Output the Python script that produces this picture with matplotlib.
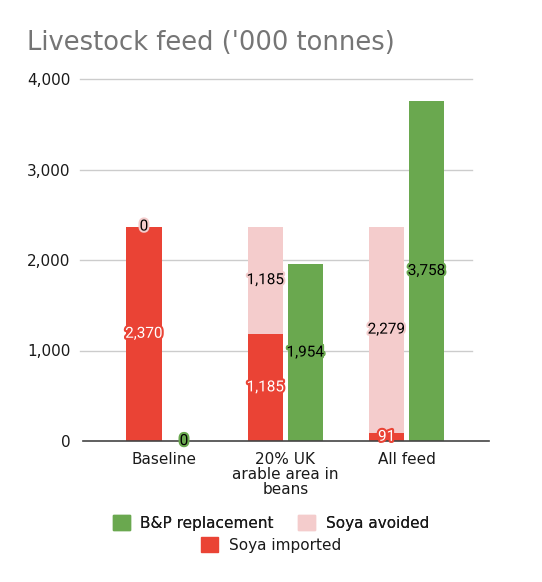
import matplotlib
matplotlib.use("Agg")
import matplotlib.pyplot as plt
import matplotlib.patheffects as pe
from matplotlib.patches import Patch
import numpy as np

categories = ["Baseline", "20% UK\narable area in\nbeans", "All feed"]
soya_imported = [2370, 1185, 91]
soya_avoided = [0, 1185, 2279]
bp_replacement = [0, 1954, 3758]
yticks = [0, 1000, 2000, 3000, 4000]

RED = "#ea4335"
PINK = "#f4cccc"
GREEN = "#6aa84f"
TXT = "#1a1a1a"

fig = plt.figure(figsize=(5.42, 5.82), dpi=100)
ax = fig.add_axes([83/542, (582-441)/582, 406/542, (441-79)/582])

x = np.arange(len(categories))
w = 0.29
off = 0.165

b_imp = ax.bar(x - off, soya_imported, w, color=RED, zorder=3)
b_av = ax.bar(x - off, soya_avoided, w, bottom=soya_imported, color=PINK, zorder=3)
b_bp = ax.bar(x + off, bp_replacement, w, color=GREEN, zorder=3)

lab_font = dict(fontsize=11, family=["Roboto", "DejaVu Sans"])
for bars, tc, hc in [(b_imp, "white", RED), (b_av, "black", PINK), (b_bp, "black", GREEN)]:
    texts = ax.bar_label(bars, labels=[f"{v:,.0f}" for v in bars.datavalues],
                         label_type="center", color=tc, zorder=5, **lab_font)
    for t in texts:
        t.set_path_effects([pe.withStroke(linewidth=3, foreground=hc)])
        t.set_clip_on(False)

ax.set_ylim(0, 4000)
c0 = 164
sp = 121.3
ax.set_xlim(-(c0 - 83) / sp, (489 - c0) / sp)
ax.set_yticks(yticks)
ax.set_yticklabels([f"{v:,}" for v in yticks], fontsize=11, color=TXT)
ax.set_xticks(x)
ax.set_xticklabels(categories, fontsize=11, color=TXT, linespacing=1.0)
ax.tick_params(axis="both", length=0)
ax.tick_params(axis="y", pad=9)
ax.tick_params(axis="x", pad=8)

for s in ["top", "right", "left"]:
    ax.spines[s].set_visible(False)
ax.spines["bottom"].set_color("#444444")
ax.spines["bottom"].set_linewidth(1.2)
ax.spines["bottom"].set_zorder(4)

for v in yticks[1:]:
    ax.axhline(v, xmin=-3/406, xmax=(472-83)/406, color="#cccccc", lw=1.0, zorder=1, clip_on=False)

fig.text(27/542, 1 - 50/582, "Livestock feed ('000 tonnes)", fontsize=18.5, color="#757575",
         ha="left", va="baseline")

leg1 = fig.legend(handles=[Patch(color=GREEN, label="B&P replacement"),
                           Patch(color=PINK, label="Soya avoided")],
                  loc="center", bbox_to_anchor=(271/542, 1 - 523/582), ncol=2, frameon=False,
                  fontsize=11, handlelength=1.1, handleheight=1.1, handletextpad=0.7,
                  columnspacing=1.6, borderpad=0, borderaxespad=0)
leg2 = fig.legend(handles=[Patch(color=RED, label="Soya imported")],
                  loc="center", bbox_to_anchor=(271/542, 1 - 545/582), ncol=1, frameon=False,
                  fontsize=11, handlelength=1.1, handleheight=1.1, handletextpad=0.7,
                  borderpad=0, borderaxespad=0)
for leg in (leg1, leg2):
    for t in leg.get_texts():
        t.set_color(TXT)
fig.add_artist(leg1)

fig.savefig("out.png", dpi=100, facecolor="white")
